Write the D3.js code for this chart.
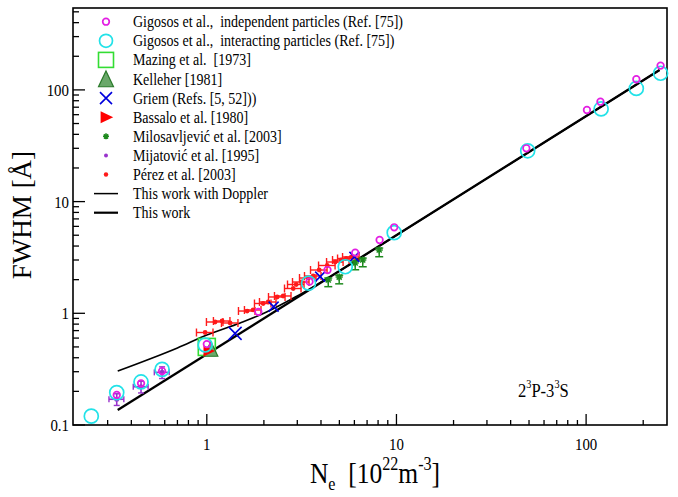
<!DOCTYPE html>
<html>
<head>
<meta charset="utf-8">
<script src="https://cdn.jsdelivr.net/npm/d3@7"></script>
<style>
  body { margin: 0; background: #fff; }
  text { font-family: "Liberation Serif", "Times New Roman", serif; fill: #000; white-space: pre; }
</style>
</head>
<body>
<div id="my_dataviz"></div>
<script>

// Gigosos et al., independent particles
var indepNe   = [0.335, 0.45, 0.581, 1.0, 1.87, 3.48, 4.33, 6.06, 8.15, 9.73, 48.4, 101, 119, 184, 247];
var indepFwhm = [0.186, 0.236, 0.304, 0.53, 1.03, 1.92, 2.44, 3.49, 4.53, 5.89, 30.0, 66.1, 78.4, 124.5, 165];

// Gigosos et al., interacting particles
var interNe   = [0.246, 0.335, 0.45, 0.581, 0.98, 3.44, 5.37, 9.73, 49.2, 120, 184, 247];
var interFwhm = [0.120, 0.195, 0.243, 0.315, 0.52, 1.86, 2.61, 5.27, 28.5, 67.5, 103, 141];

// single experiments around Ne = 1
var mazingNe = [1.0],   mazingFwhm = [0.50];
var kelleherNe = [1.05], kelleherFwhm = [0.47];
var bassaloNe = [1.02],  bassaloFwhm = [0.46];

// Griem
var griemNe   = [1.41, 2.25, 3.96, 6.0];
var griemFwhm = [0.662, 1.146, 2.13, 3.2];

// Milosavljevic et al. (vertical error bars, relative)
var miloNe     = [4.37, 4.99, 6.06, 6.64, 8.11];
var miloFwhm   = [1.99, 2.11, 2.82, 3.0, 3.69];
var miloErrLo  = [0.13, 0.13, 0.13, 0.13, 0.13];
var miloErrHi  = [0.04, 0.04, 0.04, 0.04, 0.04];

// Mijatovic et al. (error bars both ways, relative)
var mijaNe   = [0.335, 0.45, 0.581];
var mijaFwhm = [0.170, 0.220, 0.296];
var mijaXErr = [0.09, 0.09, 0.09];
var mijaYErr = [0.12, 0.12, 0.12];

// Perez et al. (horizontal error bars, relative)
var perezNe   = [0.98, 1.106, 1.204, 1.327, 1.632, 1.755, 1.982, 2.106, 2.35, 2.527, 2.854,
                 2.96, 3.145, 3.424, 3.638, 3.914, 4.315, 4.755, 5.113, 5.435, 5.775];
var perezFwhm = [0.673, 0.836, 0.853, 0.819, 1.048, 1.071, 1.224, 1.262, 1.40, 1.429, 1.667,
                 1.811, 1.906, 2.07, 2.158, 2.441, 2.679, 2.879, 3.0, 3.095, 3.19];
var perezXErr = 0.10;

// theory lines
var workNe   = [0.339, 244];
var workFwhm = [0.136, 150.7];
var dopNe    = [0.339, 0.5, 0.7, 1.0, 1.5, 2.0, 3.0, 5.0, 10, 244];
var dopFwhm  = [0.304, 0.39, 0.49, 0.64, 0.82, 1.0, 1.43, 2.39, 5.0, 150.7];

// ticks
var xMajor = [1, 10, 100];
var xMinor = [0.3, 0.4, 0.5, 0.6, 0.7, 0.8, 0.9, 2, 3, 4, 5, 6, 7, 8, 9, 20, 30, 40, 50, 60, 70, 80, 90, 200];
var yMajor = [0.1, 1, 10, 100];
var yMinor = [0.2, 0.3, 0.4, 0.5, 0.6, 0.7, 0.8, 0.9, 2, 3, 4, 5, 6, 7, 8, 9, 20, 30, 40, 50, 60, 70, 80, 90, 200, 300, 400, 500];

var legendLabels = [
  "Gigosos et al.,  independent particles (Ref. [75])",
  "Gigosos et al.,  interacting particles (Ref. [75])",
  "Mazing et al.  [1973]",
  "Kelleher [1981]",
  "Griem (Refs. [5, 52]))",
  "Bassalo et al. [1980]",
  "Milosavljević et al. [2003]",
  "Mijatović et al. [1995]",
  "Pérez et al. [2003]",
  "This work with Doppler",
  "This work"
];

var zip = function(a, b) { return a.map(function(v, i) { return [v, b[i]]; }); };

var W = 678, H = 497;
var pLeft = 73, pRight = 667, pTop = 8, pBottom = 425;
var sx = 0.85; // text in the source is horizontally squeezed

var svg = d3.select("#my_dataviz")
  .append("svg")
    .attr("width", W)
    .attr("height", H);

var x = d3.scaleLog().domain([0.197, 267]).range([pLeft, pRight]);
var y = d3.scaleLog().domain([0.1, 541]).range([pBottom, pTop]);

function txt(g, px, py, anchor, size) {
  return g.append("text")
    .attr("transform", "translate(" + px + "," + py + ") scale(" + sx + ",1)")
    .attr("text-anchor", anchor)
    .style("font-size", size + "px");
}

// frame
svg.append("rect")
  .attr("x", pLeft).attr("y", pTop)
  .attr("width", pRight - pLeft).attr("height", pBottom - pTop)
  .attr("fill", "none").attr("stroke", "#000").attr("stroke-width", 1.6);

// ticks, pointing inward
var ax = svg.append("g").attr("stroke", "#000").attr("stroke-width", 1.3);
ax.selectAll(".xmaj").data(xMajor).enter().append("line")
  .attr("x1", d => x(d)).attr("x2", d => x(d))
  .attr("y1", pBottom).attr("y2", pBottom - 11);
ax.selectAll(".xmin").data(xMinor).enter().append("line")
  .attr("x1", d => x(d)).attr("x2", d => x(d))
  .attr("y1", pBottom).attr("y2", pBottom - 5);
ax.selectAll(".ymaj").data(yMajor).enter().append("line")
  .attr("y1", d => y(d)).attr("y2", d => y(d))
  .attr("x1", pLeft).attr("x2", pLeft + 12);
ax.selectAll(".ymin").data(yMinor).enter().append("line")
  .attr("y1", d => y(d)).attr("y2", d => y(d))
  .attr("x1", pLeft).attr("x2", pLeft + 6);

xMajor.forEach(function(d) { txt(svg, x(d), 450, "middle", 17.5).text(d); });
yMajor.forEach(function(d) { txt(svg, 69, y(d) + 6, "end", 17.5).text(d); });

// axis titles
var xt = txt(svg, 375, 483, "middle", 30);
xt.append("tspan").text("N");
xt.append("tspan").attr("dy", 7).style("font-size", "19px").text("e");
xt.append("tspan").attr("dy", -7).text("  [10");
xt.append("tspan").attr("dy", -13).style("font-size", "19px").text("22");
xt.append("tspan").attr("dy", 13).text("m");
xt.append("tspan").attr("dy", -13).style("font-size", "19px").text("-3");
xt.append("tspan").attr("dy", 13).text("]");

svg.append("text")
  .attr("transform", "translate(31,215) rotate(-90)")
  .attr("text-anchor", "middle")
  .style("font-size", "27px")
  .text("FWHM [Å]");

// annotation
var an = txt(svg, 518, 397, "start", 19.5);
an.append("tspan").text("2");
an.append("tspan").attr("dy", -9).style("font-size", "12px").text("3");
an.append("tspan").attr("dy", 9).text("P-3");
an.append("tspan").attr("dy", -9).style("font-size", "12px").text("3");
an.append("tspan").attr("dy", 9).text("S");

var plot = svg.append("g");

// theory lines
var line = d3.line().x(d => x(d[0])).y(d => y(d[1])).curve(d3.curveMonotoneX);
plot.append("path").datum(zip(dopNe, dopFwhm))
  .attr("d", line).attr("fill", "none").attr("stroke", "#000").attr("stroke-width", 1.6);
plot.append("path").datum(zip(workNe, workFwhm))
  .attr("d", line).attr("fill", "none").attr("stroke", "#000").attr("stroke-width", 2.3);

// marker drawing functions
var C = {
  indep: "#e31ee3", inter: "#22e2e8", mazing: "#33dd33", kelFill: "#6aa86a", kelStroke: "#2a7a2a",
  griem: "#0000dd", bassalo: "#ff0000", milo: "#1e8a1e", mija: "#9933cc", perez: "#ff1a1a"
};

function circ(g, px, py, r, col) {
  g.append("circle").attr("cx", px).attr("cy", py).attr("r", r)
    .attr("fill", "none").attr("stroke", col).attr("stroke-width", 1.7);
}
function square(g, px, py, s) {
  g.append("rect").attr("x", px - s / 2).attr("y", py - s / 2).attr("width", s).attr("height", s)
    .attr("fill", "none").attr("stroke", C.mazing).attr("stroke-width", 1.6);
}
function tri(g, px, py, s) {
  g.append("path")
    .attr("d", "M" + px + "," + (py - s * 0.6) + "L" + (px + s / 2) + "," + (py + s * 0.45) + "L" + (px - s / 2) + "," + (py + s * 0.45) + "Z")
    .attr("fill", C.kelFill).attr("stroke", C.kelStroke).attr("stroke-width", 1.2);
}
function triRight(g, px, py, s) {
  g.append("path")
    .attr("d", "M" + (px + s * 0.6) + "," + py + "L" + (px - s * 0.45) + "," + (py - s / 2) + "L" + (px - s * 0.45) + "," + (py + s / 2) + "Z")
    .attr("fill", C.bassalo);
}
function cross(g, px, py, s) {
  g.append("path")
    .attr("d", "M" + (px - s) + "," + (py - s) + "L" + (px + s) + "," + (py + s) + "M" + (px - s) + "," + (py + s) + "L" + (px + s) + "," + (py - s))
    .attr("stroke", C.griem).attr("stroke-width", 1.6).attr("fill", "none");
}
function star(g, px, py, s) {
  var d = "";
  for (var k = 0; k < 4; k++) {
    var a = k * Math.PI / 4;
    d += "M" + (px - s * Math.cos(a)) + "," + (py - s * Math.sin(a)) + "L" + (px + s * Math.cos(a)) + "," + (py + s * Math.sin(a));
  }
  g.append("path").attr("d", d).attr("stroke", C.milo).attr("stroke-width", 1.5);
}
function dot(g, px, py, r, col) {
  g.append("circle").attr("cx", px).attr("cy", py).attr("r", r).attr("fill", col);
}
function seg(g, x1, y1, x2, y2, col, w) {
  g.append("line").attr("x1", x1).attr("y1", y1).attr("x2", x2).attr("y2", y2)
    .attr("stroke", col).attr("stroke-width", w);
}

// Perez et al. with horizontal error bars
perezNe.forEach(function(ne, i) {
  var py = y(perezFwhm[i]), x0 = x(ne * (1 - perezXErr)), x1 = x(ne * (1 + perezXErr));
  seg(plot, x0, py, x1, py, C.perez, 1.4);
  seg(plot, x0, py - 4, x0, py + 4, C.perez, 1.4);
  seg(plot, x1, py - 4, x1, py + 4, C.perez, 1.4);
  dot(plot, x(ne), py, 2.4, C.perez);
});

// Milosavljevic et al.
miloNe.forEach(function(ne, i) {
  var px = x(ne), y0 = y(miloFwhm[i] * (1 - miloErrLo[i])), y1 = y(miloFwhm[i] * (1 + miloErrHi[i]));
  seg(plot, px, y0, px, y1, C.milo, 1.5);
  seg(plot, px - 4, y0, px + 4, y0, C.milo, 1.5);
  seg(plot, px - 4, y1, px + 4, y1, C.milo, 1.5);
  star(plot, px, y(miloFwhm[i]), 3.6);
});

// Mijatovic et al.
mijaNe.forEach(function(ne, i) {
  var px = x(ne), py = y(mijaFwhm[i]);
  var xa = x(ne * (1 - mijaXErr[i])), xb = x(ne * (1 + mijaXErr[i]));
  var ya = y(mijaFwhm[i] * (1 - mijaYErr[i])), yb = y(mijaFwhm[i] * (1 + mijaYErr[i]));
  seg(plot, xa, py, xb, py, C.mija, 1.6);
  seg(plot, px, ya, px, yb, C.mija, 1.6);
  seg(plot, xa, py - 3, xa, py + 3, C.mija, 1.4);
  seg(plot, xb, py - 3, xb, py + 3, C.mija, 1.4);
  seg(plot, px - 3, ya, px + 3, ya, C.mija, 1.4);
  seg(plot, px - 3, yb, px + 3, yb, C.mija, 1.4);
  dot(plot, px, py, 2.5, C.mija);
});

mazingNe.forEach(function(ne, i) { square(plot, x(ne), y(mazingFwhm[i]), 17); });
kelleherNe.forEach(function(ne, i) { tri(plot, x(ne), y(kelleherFwhm[i]), 14); });
bassaloNe.forEach(function(ne, i) { triRight(plot, x(ne), y(bassaloFwhm[i]), 11); });
griemNe.forEach(function(ne, i) { cross(plot, x(ne), y(griemFwhm[i]), i === 0 ? 6.5 : 5); });
interNe.forEach(function(ne, i) { circ(plot, x(ne), y(interFwhm[i]), 7, C.inter); });
indepNe.forEach(function(ne, i) { circ(plot, x(ne), y(indepFwhm[i]), 3.3, C.indep); });

// legend
var lg = svg.append("g");
var rowY = function(i) { return 21.7 + i * 19.1; };
var mx = 106;
circ(lg, mx, rowY(0), 3.3, C.indep);
circ(lg, mx, rowY(1), 6.5, C.inter);
square(lg, mx, rowY(2), 15);
tri(lg, mx, rowY(3) + 1, 15);
cross(lg, mx, rowY(4), 6);
triRight(lg, mx, rowY(5), 12);
star(lg, mx, rowY(6), 3);
dot(lg, mx, rowY(7), 2, C.mija);
dot(lg, mx, rowY(8), 2.2, C.perez);
seg(lg, 94, rowY(9), 118, rowY(9), "#000", 1.5);
seg(lg, 94, rowY(10), 118, rowY(10), "#000", 2.2);

legendLabels.forEach(function(s, i) {
  txt(lg, 133, rowY(i) + 5.5, "start", 16.5).text(s);
});

</script>
</body>
</html>
